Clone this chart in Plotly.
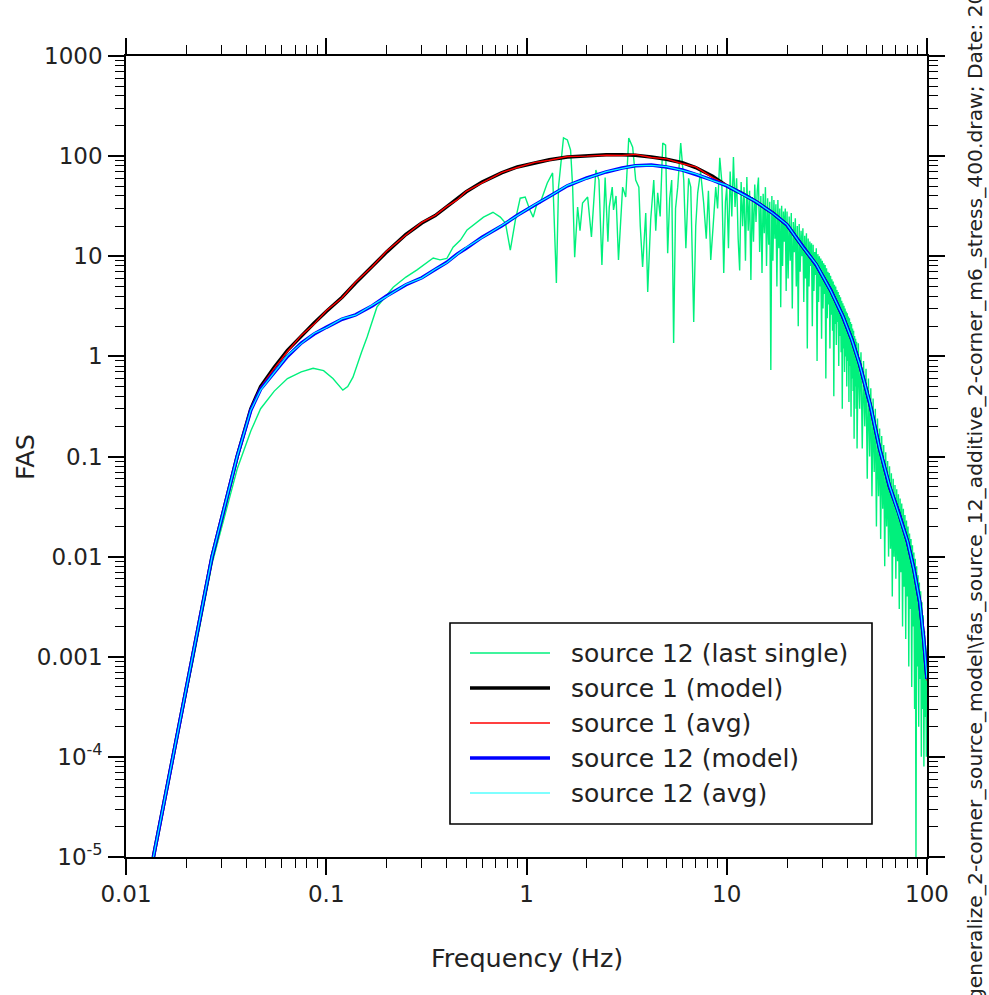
import plotly.graph_objects as go

# ---------------- data ----------------
SERIES_NAMES = ["source 12 (last single)", "source 1 (model)", "source 1 (avg)",
                "source 12 (model)", "source 12 (avg)"]
SERIES_COLORS = ["#00F07C", "#000000", "#FF0000", "#0000FF", "#00FFFF"]

# common frequency samples for the smooth curves (Hz)
freq_model = [0.0137, 0.0172, 0.0216, 0.0269, 0.0359, 0.042, 0.047, 0.055, 0.064, 0.075,
              0.087, 0.1, 0.12, 0.14, 0.17, 0.2, 0.25, 0.3, 0.35, 0.4,
              0.45, 0.5, 0.6, 0.75, 0.9, 1.1, 1.3, 1.6, 2.0, 2.5,
              3.0, 3.5, 4.2, 5.0, 6.0, 7.0, 8.5, 10, 12, 14,
              17, 20, 24, 28, 33, 38, 42, 46, 52, 58,
              65, 72, 80, 86, 92, 96, 100]

src1_model = [1e-5, 1e-4, 1e-3, 1e-2, 0.1, 0.3, 0.5, 0.78, 1.15, 1.6,
              2.15, 2.8, 3.9, 5.4, 8.0, 11, 16.5, 21.5, 25.5, 31,
              37, 44, 55, 68, 78, 86, 92, 98, 101, 103,
              103, 102, 98, 93, 86, 77, 63, 50.5, 42, 35,
              27, 20.5, 12.4, 8.2, 4.6, 2.5, 1.5, 0.85, 0.33, 0.12,
              0.05, 0.028, 0.014, 0.0075, 0.0035, 0.0016, 0.0006]

src1_avg = [1e-5, 1e-4, 1e-3, 1e-2, 0.1, 0.3, 0.49, 0.76, 1.12, 1.62,
            2.1, 2.85, 3.85, 5.5, 7.9, 11.2, 16.3, 21.8, 25.6, 31.5,
            36.5, 44.5, 54, 68.5, 77, 86.5, 91, 99, 100, 102,
            101.5, 104, 97, 94, 84, 78, 61, 51.5, 41, 35.5,
            26.5, 21, 12.2, 8.4, 4.5, 2.55, 1.48, 0.86, 0.32, 0.122,
            0.049, 0.029, 0.0138, 0.0077, 0.0034, 0.00165, 0.00058]

src12_model = [1e-5, 1e-4, 1e-3, 1e-2, 0.1, 0.29, 0.47, 0.69, 1.0, 1.36,
               1.67, 1.95, 2.35, 2.6, 3.2, 4.0, 5.2, 6.1, 7.3, 8.7,
               10.5, 12, 15.5, 20, 25.7, 32.5, 40, 50.5, 60.5, 69.5,
               76, 80, 81.5, 78, 72.6, 66, 57.5, 50.5, 42, 35,
               27, 20.5, 12.4, 8.2, 4.6, 2.5, 1.5, 0.85, 0.33, 0.12,
               0.05, 0.028, 0.014, 0.0075, 0.0035, 0.0016, 0.0006]

src12_avg = [1e-5, 1e-4, 1e-3, 1e-2, 0.1, 0.29, 0.46, 0.7, 1.02, 1.34,
             1.7, 1.93, 2.38, 2.58, 3.25, 3.95, 5.25, 6.05, 7.4, 8.6,
             10.4, 12.2, 15.3, 20.3, 25.4, 32.8, 39.5, 51, 60, 70,
             75.5, 80.5, 81, 78.5, 72, 66.5, 57, 51, 41.5, 35.3,
             26.8, 20.7, 12.3, 8.3, 4.55, 2.52, 1.49, 0.84, 0.335, 0.119,
             0.051, 0.0275, 0.0142, 0.0074, 0.0036, 0.00158, 0.00061]

# single realisation of source 12 (noisy), read piecewise from the picture
single_freq = [
    # below 1.2 Hz
    0.0137, 0.0172, 0.0216, 0.0269, 0.0359, 0.042, 0.047, 0.055, 0.064, 0.075,
    0.086, 0.097, 0.108, 0.121, 0.128, 0.136, 0.15, 0.16, 0.179, 0.216,
    0.25, 0.284, 0.342, 0.37, 0.4, 0.43, 0.468, 0.505, 0.61, 0.68,
    0.74, 0.785, 0.83, 0.88, 0.93, 0.985, 1.04, 1.08, 1.13, 1.17,
    # 1.2 - 10 Hz
    1.27, 1.35, 1.41, 1.445, 1.53, 1.60, 1.66, 1.70, 1.74, 1.80,
    1.85, 1.905, 2.02, 2.11, 2.22, 2.30, 2.38, 2.47, 2.55, 2.59,
    2.68, 2.72, 2.80, 2.88, 3.02, 3.13, 3.24, 3.39, 3.51, 3.64,
    3.70, 3.80, 3.94, 4.03, 4.17, 4.32, 4.42, 4.52, 4.65, 4.79,
    4.95, 5.07, 5.19, 5.31, 5.43, 5.55, 5.69, 5.89, 6.10, 6.25,
    6.45, 6.61, 6.84, 7.0, 7.16, 7.4, 7.67, 7.9, 8.1, 8.32,
    8.55, 8.81, 9.0, 9.23, 9.45, 9.66, 9.85,
    # 10 - 20 Hz
    10.0, 10.2, 10.4, 10.6, 10.8, 11.0, 11.2, 11.4, 11.6, 11.8,
    12.0, 12.2, 12.4, 12.6, 12.8, 13.0, 13.2, 13.4, 13.6, 13.8,
    14.0, 14.2, 14.4, 14.6, 14.8, 15.0, 15.2, 15.4, 15.6, 15.8,
    16.0, 16.2, 16.4, 16.6, 16.8, 17.0, 17.2, 17.4, 17.6, 17.8,
    18.0, 18.2, 18.4, 18.6, 18.8, 19.0, 19.2, 19.4, 19.6, 19.8,
    # 20 - 45 Hz
    20.0, 20.25, 20.5, 20.75, 21.0, 21.25, 21.5, 21.75, 22.0, 22.25,
    22.5, 22.75, 23.0, 23.25, 23.5, 23.75, 24.0, 24.25, 24.5, 24.75,
    25.0, 25.25, 25.5, 25.75, 26.0, 26.25, 26.5, 26.75, 27.0, 27.25,
    27.5, 27.75, 28.0, 28.25, 28.5, 28.75, 29.0, 29.25, 29.5, 29.75,
    30.0, 30.25, 30.5, 30.75, 31.0, 31.25, 31.5, 31.75, 32.0, 32.25,
    32.5, 32.75, 33.0, 33.25, 33.5, 33.75, 34.0, 34.25, 34.5, 34.75,
    35.0, 35.25, 35.5, 35.75, 36.0, 36.25, 36.5, 36.75, 37.0, 37.25,
    37.5, 37.75, 38.0, 38.25, 38.5, 38.75, 39.0, 39.25, 39.5, 39.75,
    40.0, 40.25, 40.5, 40.75, 41.0, 41.25, 41.5, 41.75, 42.0, 42.25,
    42.5, 42.75, 43.0, 43.25, 43.5, 43.75, 44.0, 44.25, 44.5, 44.75,
    # 45 - 100 Hz
    45.4, 46.1, 46.8, 47.5, 48.2, 48.9, 49.6, 50.3, 51.0, 51.7,
    52.4, 53.1, 53.8, 54.5, 55.2, 55.9, 56.6, 57.3, 58.0, 58.7,
    59.4, 60.1, 60.8, 61.5, 62.2, 62.9, 63.6, 64.3, 65.0, 65.7,
    66.4, 67.1, 67.8, 68.5, 69.2, 69.9, 70.6, 71.3, 72.0, 72.7,
    73.4, 74.1, 74.8, 75.5, 76.2, 76.9, 77.6, 78.3, 79.0, 79.7,
    80.4, 81.1, 81.8, 82.5, 83.2, 83.9, 84.6, 85.3, 86.0, 86.7,
    87.4, 88.1, 88.8, 89.5, 90.2, 90.9, 91.6, 92.3, 93.0, 93.7,
    94.4, 95.1, 95.8, 96.5, 97.2, 97.9, 98.6, 99.3, 100.0]
single_fas = [
    # below 1.2 Hz
    1e-5, 1e-4, 9e-4, 8.5e-3, 0.075, 0.18, 0.3, 0.45, 0.6, 0.7,
    0.76, 0.72, 0.6, 0.46, 0.5, 0.62, 1.1, 1.56, 3.1, 4.9,
    6.2, 7.3, 9.6, 9.2, 9.5, 12.3, 14.5, 18.3, 24.6, 27.5,
    24.6, 21.5, 11.5, 23, 38, 39, 29, 24.6, 34, 34,
    # 1.2 - 10 Hz
    54, 68, 5.4, 49, 152, 145, 115, 49, 9.8, 31,
    18, 34, 39, 15.6, 72.6, 57.7, 8.2, 61, 14, 31,
    49, 29, 40, 9.2, 49, 39, 152, 123, 57.7, 49,
    20, 7.8, 27, 4.4, 23, 57.7, 18, 43, 25, 135,
    129, 10.7, 38, 57.7, 1.36, 30, 49, 135, 57.7, 12,
    60, 49, 2.2, 20, 43, 70, 34, 15, 45, 9.2,
    20, 49, 30, 96, 55, 6.8, 35,
    # 10 - 20 Hz
    49, 12, 70, 25, 98, 31, 60, 15, 7.2, 55,
    20, 49, 9, 62, 18, 45, 5.8, 39, 14, 52,
    22, 45, 61, 11, 40, 6.8, 42, 17, 49, 8,
    38, 13, 35, 0.73, 40, 9, 36.5, 15, 33, 5,
    36.5, 12, 30, 3.1, 32, 8, 28, 14, 30, 4.5,
    # 20 - 45 Hz
    28, 6, 25, 9, 27, 3, 22, 11, 24, 5,
    20, 2, 21, 7, 18, 10, 19, 3.5, 16, 6,
    17, 1.2, 15, 5, 14, 8, 13.5, 2, 13, 4.5,
    11, 6.5, 12, 0.9, 10.5, 3.5, 10, 5, 9.5, 1.5,
    9, 3, 8.5, 4.2, 8.2, 0.6, 7.6, 2.4, 7, 3.3,
    6.8, 1.2, 6.4, 2.6, 5.9, 1.8, 5.6, 0.4, 5.2, 2.1,
    5, 1.3, 4.6, 2.2, 4.4, 0.8, 4.1, 1.6, 3.9, 1.1,
    3.6, 0.3, 3.4, 1.2, 3.2, 0.7, 3.0, 1.0, 2.8, 0.5,
    2.7, 0.9, 2.5, 0.35, 2.4, 0.8, 2.2, 0.25, 2.1, 0.6,
    1.9, 0.45, 1.8, 0.15, 1.6, 0.5, 1.5, 0.3, 1.4, 0.12,
    # 45 - 100 Hz
    1.35, 0.3, 1.1, 0.12, 0.9, 0.2, 0.75, 0.06, 0.6, 0.1,
    0.48, 0.04, 0.38, 0.07, 0.3, 0.02, 0.24, 0.04, 0.19, 0.015,
    0.16, 0.03, 0.13, 0.008, 0.11, 0.02, 0.09, 0.01, 0.08, 0.012,
    0.068, 0.004, 0.06, 0.01, 0.052, 0.006, 0.047, 0.009, 0.042, 0.003,
    0.038, 0.007, 0.034, 0.002, 0.03, 0.005, 0.026, 0.0015, 0.023, 0.004,
    0.02, 0.0008, 0.017, 0.003, 0.015, 0.0005, 0.013, 0.002, 0.011, 0.0003,
    0.0095, 0.00001, 0.008, 0.0008, 0.0065, 0.0002, 0.0055, 0.0006, 0.0045, 0.0001,
    0.0035, 0.0003, 0.0026, 0.00008, 0.0018, 0.00025, 0.0013, 0.0001, 0.0007]

assert len(single_freq) == len(single_fas)

X_TICKS = [0.01, 0.1, 1, 10, 100]
X_TICKTEXT = ["0.01", "0.1", "1", "10", "100"]
Y_TICKS = [1e-5, 1e-4, 1e-3, 1e-2, 0.1, 1, 10, 100, 1000]
Y_TICKTEXT = ["10<sup>-5</sup>", "10<sup>-4</sup>", "0.001", "0.01", "0.1", "1", "10", "100", "1000"]

X_TITLE = "Frequency (Hz)"
Y_TITLE = "FAS"
SIDE_TEXT = ("generalize_2-corner_source_model\\fas_source_12_additive_2-corner_m6_stress_400.draw; "
             "Date: 20")

# ---------------- figure ----------------
FONT = "DejaVu Sans"
TXT = "#222222"
series = [
    (single_freq, single_fas, 1.4),
    (freq_model, src1_model, 3.5),
    (freq_model, src1_avg, 1.4),
    (freq_model, src12_model, 3.5),
    (freq_model, src12_avg, 1.2),
]

fig = go.Figure()
for (fx, fy, w), name, col in zip(series, SERIES_NAMES, SERIES_COLORS):
    fig.add_trace(go.Scatter(x=fx, y=fy, mode="lines", name=name,
                             line=dict(color=col, width=w), showlegend=False))

minor_x = [m * 10 ** e for e in range(-2, 2) for m in range(2, 10)]
minor_y = [m * 10 ** e for e in range(-5, 3) for m in range(2, 10)]

axis_common = dict(
    type="log", showline=True, linecolor="black", linewidth=1.6, mirror="ticks",
    ticks="outside", ticklen=16, tickwidth=1.6, tickcolor="black",
    showgrid=False, zeroline=False,
    tickfont=dict(family=FONT, size=23, color=TXT),
)

fig.update_xaxes(range=[-2, 2], tickmode="array", tickvals=X_TICKS, ticktext=X_TICKTEXT,
                 minor=dict(tickmode="array", tickvals=minor_x, ticks="outside", ticklen=9,
                            tickwidth=1.4, tickcolor="black", showgrid=False),
                 **axis_common)
fig.update_yaxes(range=[-5, 3], tickmode="array", tickvals=Y_TICKS, ticktext=Y_TICKTEXT,
                 minor=dict(tickmode="array", tickvals=minor_y, ticks="outside", ticklen=9,
                            tickwidth=1.4, tickcolor="black", showgrid=False),
                 ticklabelstandoff=1,
                 **axis_common)

# plot-area geometry in pixels (for legend / title placement)
L, T, W, H = 126, 56, 801, 801


def px(xp):
    return (xp - L) / W


def py(yp):
    return (T + H - yp) / H


shapes = [dict(type="rect", xref="paper", yref="paper", x0=px(450), x1=px(872),
               y0=py(824), y1=py(623), line=dict(color="black", width=1.6),
               fillcolor="white", layer="above")]
annotations = []
row_y = [653, 688, 723, 758, 793]
for (fx, fy, w), name, col, ry in zip(series, SERIES_NAMES, SERIES_COLORS, row_y):
    shapes.append(dict(type="line", xref="paper", yref="paper", x0=px(470), x1=px(550),
                       y0=py(ry), y1=py(ry), line=dict(color=col, width=w), layer="above"))
    annotations.append(dict(xref="paper", yref="paper", x=px(569), y=py(ry), text=name,
                            showarrow=False, xanchor="left", yanchor="middle",
                            font=dict(family=FONT, size=25, color=TXT)))

annotations.append(dict(xref="paper", yref="paper", x=px(527), y=py(958), text=X_TITLE,
                        showarrow=False, xanchor="center", yanchor="middle",
                        font=dict(family=FONT, size=25.5, color=TXT)))
annotations.append(dict(xref="paper", yref="paper", x=px(25), y=py(457), text=Y_TITLE,
                        textangle=-90, showarrow=False, xanchor="center", yanchor="middle",
                        font=dict(family=FONT, size=25.5, color=TXT)))
annotations.append(dict(xref="paper", yref="paper", x=px(975), y=py(496), text=SIDE_TEXT,
                        textangle=-90, showarrow=False, xanchor="center", yanchor="middle",
                        font=dict(family=FONT, size=20.3, color=TXT)))

fig.update_layout(
    width=989, height=995,
    margin=dict(l=L, r=989 - L - W, t=T, b=995 - T - H, autoexpand=False),
    paper_bgcolor="white", plot_bgcolor="white",
    shapes=shapes, annotations=annotations, showlegend=False,
)

fig.write_html("out.html", config={"displayModeBar": False},
               post_script="document.body.style.margin='0px';")
